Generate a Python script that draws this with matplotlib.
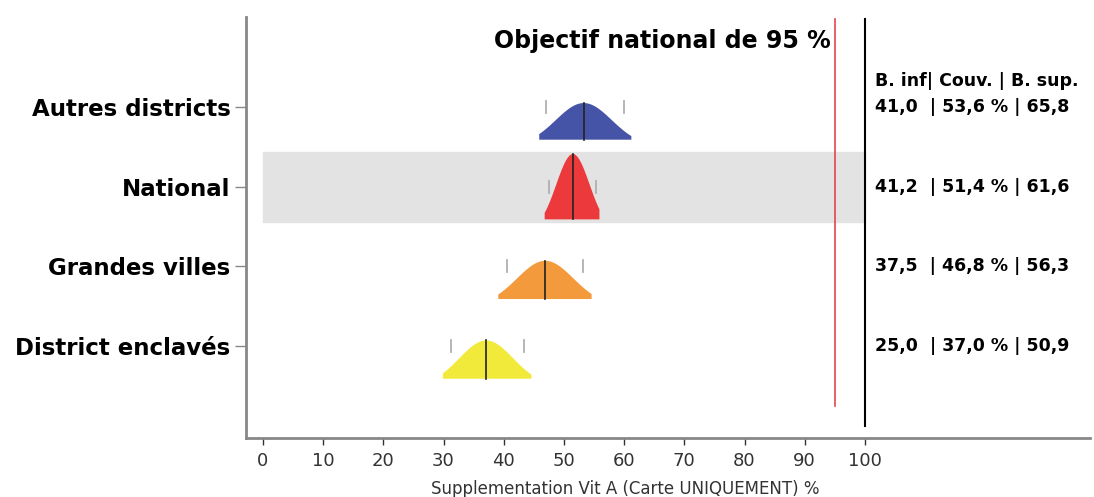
import numpy as np
import matplotlib.pyplot as plt
from matplotlib.patches import Rectangle

# categories, bottom to top
categories = ['District enclavés', 'Grandes villes', 'National', 'Autres districts']
colors = ['#f2ea3a', '#f39a3c', '#ec3a3c', '#4654a8']
b_inf = ['25,0', '37,5', '41,2', '41,0']
couv = ['37,0', '46,8', '51,4', '53,6']
b_sup = ['50,9', '56,3', '61,6', '65,8']

# distribution shapes
shape_lo = [29.9, 39.1, 46.8, 45.9]
shape_hi = [44.6, 54.6, 55.9, 61.2]
median = [37.1, 46.9, 51.5, 53.3]
mark_lo = [31.2, 40.5, 47.6, 47.1]
mark_hi = [43.4, 53.2, 55.3, 60.0]
peak_h = [0.48, 0.48, 0.82, 0.46]

objectif = 95

fig = plt.figure(figsize=(10.94, 4.97), dpi=100)
ax = fig.add_axes([246 / 1094, 1 - 438 / 497, (1090 - 246) / 1094, (438 - 17) / 497])
ax.set_xlim(-2.82, 137.4)
ax.set_ylim(-0.154, 5.13)

ypos = np.arange(1, len(categories) + 1)
base_off = -0.41

# grey band behind National
ax.add_patch(Rectangle((0, 3 - 0.44), 100, 0.88, color='#e3e3e3', zorder=0))

bold = dict(fontweight='bold', family='DejaVu Sans')

for i, y in enumerate(ypos):
    lo, hi = shape_lo[i], shape_hi[i]
    mu = median[i]
    sd = (hi - lo) / 3.3
    x = np.linspace(lo, hi, 200)
    g = np.exp(-0.5 * ((x - mu) / sd) ** 2)
    dens = np.clip((g - 0.15) / 0.85, 0.1, None)
    dens = dens / dens.max() * peak_h[i]
    base = y + base_off
    xs = np.concatenate([[lo], x, [hi]])
    ys = np.concatenate([[base], base + dens, [base]])
    ax.fill(xs, ys, color=colors[i], zorder=2, lw=0)
    ax.plot([mu, mu], [base, base + peak_h[i]], color='#222222', lw=1.2, zorder=3)
    for m in (mark_lo[i], mark_hi[i]):
        ax.plot([m, m], [y - 0.075, y + 0.075], color='#b0b0b0', lw=1.3, zorder=3)
    ax.text(101.6, y, b_inf[i] + '  | ' + couv[i] + ' % | ' + b_sup[i],
            fontsize=12.5, va='center', ha='left', **bold)

ax.text(101.6, 4.33, 'B. inf| Couv. | B. sup.', fontsize=12.5,
        va='center', ha='left', **bold)

ax.plot([objectif, objectif], [0.25, 5.1], color='#e0474c', lw=1.2, zorder=1)
ax.plot([100, 100], [0.0, 5.1], color='black', lw=1.5, zorder=1)
ax.text(94.4, 4.83, 'Objectif national de 95 %', fontsize=17,
        ha='right', va='center', **bold)

ax.set_yticks(ypos)
ax.set_yticklabels(categories, fontsize=16.5, **bold)
ax.set_xticks(np.arange(0, 101, 10))
ax.tick_params(axis='x', labelsize=13, colors='#333333', length=5, width=1, pad=5)
ax.tick_params(axis='y', length=8, width=1, color='#888888', pad=3)
for lab in ax.get_xticklabels():
    lab.set_family('DejaVu Sans')

for s in ['top', 'right']:
    ax.spines[s].set_visible(False)
for s in ['left', 'bottom']:
    ax.spines[s].set_color('#888888')
    ax.spines[s].set_linewidth(2)

fig.text(625 / 1094, 1 - 489 / 497, 'Supplementation Vit A (Carte UNIQUEMENT) %',
         fontsize=12, family='DejaVu Sans', color='#333333', ha='center', va='center')

fig.savefig('out.png', dpi=100)
